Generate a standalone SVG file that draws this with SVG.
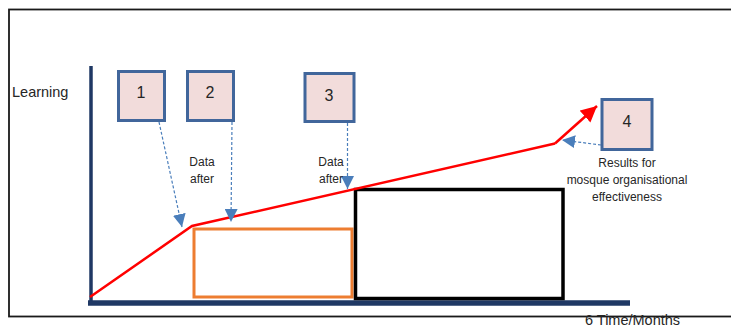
<svg xmlns="http://www.w3.org/2000/svg" width="731" height="327" viewBox="0 0 731 327">
<defs>
<style>
.t{font-family:"Liberation Sans",Arial,sans-serif;fill:#262626}
.box{fill:#f2dcdb;stroke:#41669b;stroke-width:3}
.num{font-size:16px;text-anchor:middle}
.lbl{font-size:12px;text-anchor:middle}
.dash{fill:none;stroke:#4a7ebb;stroke-width:1.2;stroke-dasharray:3 2}
</style>
<marker id="bh" markerUnits="userSpaceOnUse" markerWidth="14" markerHeight="13" refX="13" refY="6.5" orient="auto">
<path d="M0,0 L13,6.5 L0,13 Z" fill="#4a7ebb"/>
</marker>
<marker id="rh" markerUnits="userSpaceOnUse" markerWidth="18" markerHeight="16" refX="16" refY="8" orient="auto">
<path d="M0,0 L16,8 L0,16 Z" fill="#ff0000"/>
</marker>
</defs>
<rect x="0" y="0" width="731" height="327" fill="#ffffff"/>
<rect id="frame" x="9" y="9.5" width="730" height="307" fill="none" stroke="#1a1a1a" stroke-width="1.8"/>
<text class="t" x="12" y="97" font-size="14.5">Learning</text>
<g id="axes">
<line x1="91" y1="66" x2="91" y2="301" stroke="#1f3864" stroke-width="3.5"/>
<line x1="88" y1="303" x2="630" y2="303" stroke="#1f3864" stroke-width="5.5"/>
</g>
<g id="orange-block"><rect x="194" y="229" width="158" height="68" fill="none" stroke="#ed7d31" stroke-width="3"/></g>
<g id="black-block"><rect x="355.5" y="189.5" width="207.5" height="109" fill="none" stroke="#000000" stroke-width="3.5"/></g>
<g id="connectors">
<polyline points="90,297 192,226 555,143.5" fill="none" stroke="#ff0000" stroke-width="2.5"/>
<line x1="555" y1="143.5" x2="597" y2="106" stroke="#ff0000" stroke-width="2.5" marker-end="url(#rh)"/>
<line class="dash" x1="159" y1="122" x2="182" y2="227" marker-end="url(#bh)"/>
<line class="dash" x1="232" y1="122" x2="231" y2="222" marker-end="url(#bh)"/>
<line class="dash" x1="347.5" y1="123" x2="347.5" y2="189" marker-end="url(#bh)"/>
<line class="dash" x1="601" y1="145" x2="562" y2="140" marker-end="url(#bh)"/>
</g>
<g id="node1"><rect class="box" x="118.5" y="71.5" width="46" height="49"/><text class="t num" x="141" y="98">1</text></g>
<g id="node2"><rect class="box" x="187.5" y="71.5" width="46" height="49"/><text class="t num" x="210" y="98">2</text></g>
<g id="node3"><rect class="box" x="305" y="73.5" width="49" height="48"/><text class="t num" x="329" y="100.5">3</text></g>
<g id="node4"><rect class="box" x="602" y="99.5" width="50" height="50"/><text class="t num" x="627" y="127">4</text></g>
<g id="labels">
<text class="t lbl" x="202" y="166">Data</text>
<text class="t lbl" x="202" y="183">after</text>
<text class="t lbl" x="331" y="166">Data</text>
<text class="t lbl" x="331" y="183">after</text>
<text class="t lbl" x="627" y="166.5">Results for</text>
<text class="t lbl" x="627" y="183.5">mosque organisational</text>
<text class="t lbl" x="627" y="200.5">effectiveness</text>
<text class="t" x="585" y="325" font-size="14.5">6 Time/Months</text>
</g>
</svg>
